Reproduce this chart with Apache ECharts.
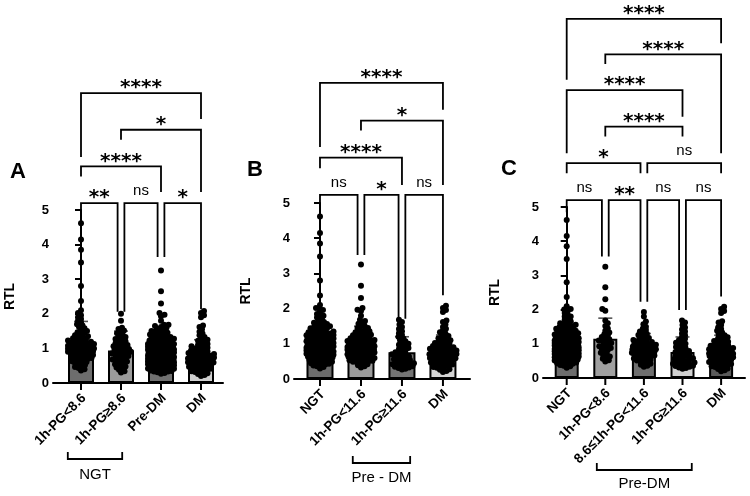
<!DOCTYPE html>
<html><head><meta charset="utf-8">
<script src="https://cdn.jsdelivr.net/npm/echarts@6/dist/echarts.min.js"></script>
<style>html,body{margin:0;padding:0;background:#fff}#c{width:750px;height:496px}</style>
</head><body><div id="c"></div>
<script>
// ---------- DATA ----------
const catsA = ['1h-PG<8.6', '1h-PG≥8.6', 'Pre-DM', 'DM'];
const catsB = ['NGT', '1h-PG<11.6', '1h-PG≥11.6', 'DM'];
const catsC = ['NGT', '1h-PG<8.6', '8.6≤1h-PG<11.6', '1h-PG≥11.6', 'DM'];

const meanA = [1.12, 0.94, 0.91, 0.78];
const meanB = [1.03, 0.93, 0.76, 0.77];
const meanC = [1.03, 1.15, 0.85, 0.76, 0.77];

const errTopA = [1.78, 1.5, 1.55, 1.25];
const errTopB = [1.62, 1.5, 1.2, 1.25];
const errTopC = [1.62, 1.75, 1.3, 1.2, 1.25];

const yTicks = [0, 1, 2, 3, 4, 5];

// individual RTL values per subgroup
const ngtLow = [0.36,0.4,0.43,0.46,0.49,0.52,0.54,0.57,0.59,0.61,0.63,0.65,0.67,0.69,0.7,0.72,0.74,0.75,0.77,0.78,0.8,0.81,0.82,0.84,0.85,0.86,0.88,0.89,0.9,0.91,0.92,0.94,0.95,0.96,0.97,0.98,0.99,1.0,1.01,1.02,1.03,1.04,1.05,1.06,1.07,1.08,1.1,1.11,1.12,1.13,1.15,1.16,1.17,1.19,1.2,1.22,1.23,1.25,1.27,1.29,1.31,1.33,1.35,1.38,1.41,1.44,1.47,1.5,1.54,1.58,1.62,1.66,1.7,1.75,1.8,1.85,1.9,1.96,2.02,2.1,2.37,2.8,3.48,3.85,4.15,4.62];
const ngtHigh = [0.3,0.34,0.38,0.42,0.45,0.48,0.51,0.54,0.57,0.6,0.62,0.64,0.66,0.68,0.7,0.72,0.74,0.76,0.78,0.8,0.82,0.84,0.85,0.87,0.89,0.9,0.92,0.94,0.96,0.98,1.0,1.02,1.04,1.06,1.08,1.1,1.12,1.15,1.18,1.21,1.24,1.27,1.3,1.33,1.36,1.4,1.44,1.48,1.52,1.56,1.6,1.8,2.0];
const preLow = [0.48,0.52,0.56,0.6,0.63,0.66,0.7,0.74,0.78,0.82,0.85,0.88,0.9,0.93,0.96,0.99,1.02,1.05,1.08,1.1,1.13,1.16,1.2,1.24,1.28,1.33,1.38,1.45,1.52,1.6,1.68,1.97,2.02,2.3,2.65,3.25];
const preMid = [0.33,0.36,0.39,0.42,0.45,0.47,0.49,0.51,0.53,0.55,0.57,0.59,0.6,0.62,0.63,0.65,0.66,0.68,0.69,0.7,0.71,0.73,0.74,0.75,0.76,0.77,0.79,0.8,0.81,0.82,0.83,0.84,0.85,0.86,0.87,0.88,0.9,0.91,0.92,0.93,0.95,0.96,0.97,0.99,1.0,1.02,1.03,1.05,1.07,1.09,1.11,1.13,1.15,1.17,1.2,1.23,1.26,1.29,1.32,1.36,1.4,1.45,1.5,1.57,1.65,1.8,1.93];
const preHigh = [0.27,0.29,0.31,0.33,0.35,0.36,0.38,0.39,0.41,0.42,0.44,0.45,0.47,0.49,0.5,0.52,0.54,0.56,0.58,0.6,0.62,0.64,0.66,0.68,0.7,0.72,0.74,0.76,0.79,0.82,0.85,0.88,0.91,0.94,0.97,1.0,1.03,1.07,1.11,1.15,1.2,1.25,1.3,1.36,1.42,1.48,1.55,1.62,1.68];
const dmVals = [0.2,0.23,0.26,0.28,0.3,0.32,0.34,0.36,0.38,0.4,0.41,0.43,0.44,0.46,0.47,0.49,0.5,0.51,0.53,0.54,0.55,0.57,0.58,0.59,0.6,0.61,0.62,0.64,0.65,0.66,0.67,0.68,0.69,0.7,0.71,0.72,0.73,0.74,0.75,0.76,0.77,0.78,0.79,0.8,0.81,0.82,0.83,0.84,0.86,0.87,0.88,0.9,0.91,0.93,0.94,0.96,0.98,1.0,1.02,1.04,1.06,1.08,1.1,1.13,1.16,1.19,1.22,1.25,1.29,1.33,1.38,1.43,1.48,1.55,1.62,1.66,1.9,1.96,2.02,2.08];

// composite groups
const ngtAll = ngtLow.concat(ngtHigh);
const pre11 = preLow.concat(preMid);
const preAll = pre11.concat(preHigh);

// significance brackets: [fromIdx, toIdx, level, leftLegEnd, rightLegEnd, label, insetLeft, insetRight]
const sigA = [
  [0, 3, 8.38, 6.53, 7.63, '****', 0, 0],
  [1, 3, 7.32, 7.03, 5.52, '*', 0, 0],
  [0, 2, 6.26, 5.97, 5.52, '****', 0, 0],
  [0, 1, 5.2, 4.85, 2.06, '**', 0, 1],
  [1, 2, 5.2, 2.06, 3.64, 'ns', 1, 1],
  [2, 3, 5.2, 3.64, 2.13, '*', 1, 0]
];
const sigB = [
  [0, 3, 8.41, 6.59, 7.65, '****', 0, 0],
  [1, 3, 7.34, 7.06, 5.51, '*', 0, 0],
  [0, 2, 6.29, 5.99, 5.51, '****', 0, 0],
  [0, 1, 5.23, 4.85, 3.52, 'ns', 0, 1],
  [1, 2, 5.23, 3.52, 1.71, '*', 1, 1],
  [2, 3, 5.23, 1.71, 2.38, 'ns', 1, 0]
];
const sigC = [
  [0, 4, 10.5, 8.72, 9.79, '****', 0, 0],
  [1, 4, 9.46, 9.18, 6.57, '****', 0, 0],
  [0, 3, 8.42, 6.57, 7.64, '****', 0, 0],
  [1, 3, 7.35, 7.06, 7.06, '****', 0, 0],
  [0, 2, 6.28, 5.99, 5.99, '*', 0, 1],
  [2, 4, 6.28, 5.99, 5.99, 'ns', 1, 0],
  [0, 1, 5.2, 4.85, 3.55, 'ns', 0, 1],
  [1, 2, 5.2, 3.55, 2.23, '**', 1, 1],
  [2, 3, 5.2, 2.23, 1.99, 'ns', 1, 1],
  [3, 4, 5.2, 1.99, 2.38, 'ns', 1, 0]
];

// ---------- LAYOUT / STYLE ----------
const FF = "'Liberation Sans', Arial, Helvetica, sans-serif";
const STAR_FONT = "bold 20px 'DejaVu Sans'";
const NS_FONT = "15px " + FF;
const LBL_FONT = "bold 13.5px " + FF;

const panels = [
  { letter: 'A', lx: 18, ly: 172, cats: catsA, means: meanA, tops: errTopA,
    groups: [ngtLow, ngtHigh, preAll, dmVals],
    colors: ['#6d6d6d', '#9b9b9b', '#707070', '#d0d0d0'],
    sig: sigA, grid: { left: 53, top: 210, width: 170, height: 173 }, xmin: -0.7, xmax: 3.55, barW: 26, nameGap: 36,
    span: { from: -0.33, to: 1.03, lineDy: 76, textDy: 92, text: 'NGT' } },
  { letter: 'B', lx: 255, ly: 170, cats: catsB, means: meanB, tops: errTopB,
    groups: [ngtAll, pre11, preHigh, dmVals],
    colors: ['#6d6d6d', '#9b9b9b', '#747474', '#d4d4d4'],
    sig: sigB, grid: { left: 294, top: 203, width: 176, height: 176 }, xmin: -0.634, xmax: 3.66, barW: 27, nameGap: 41,
    span: { from: 0.8, to: 2.2, lineDy: 84, textDy: 99, text: 'Pre - DM' } },
  { letter: 'C', lx: 509, ly: 169, cats: catsC, means: meanC, tops: errTopC,
    groups: [ngtAll, preLow, preMid, preHigh, dmVals],
    colors: ['#6d6d6d', '#a0a0a0', '#6e6e6e', '#d0d0d0', '#5a5a5a'],
    sig: sigC, grid: { left: 543, top: 207, width: 202, height: 171 }, xmin: -0.614, xmax: 4.619, barW: 24, nameGap: 41,
    span: { from: 0.78, to: 3.24, lineDy: 92, textDy: 106, text: 'Pre-DM' } }
];

const series = [];
panels.forEach((p, gi) => {
  // bars
  series.push({
    type: 'bar', xAxisIndex: gi, yAxisIndex: gi, barWidth: p.barW, z: 2, silent: true,
    data: p.means.map((m, i) => ({ value: [i, m], itemStyle: { color: p.colors[i] } })),
    itemStyle: { borderColor: '#000', borderWidth: 2 }
  });
  // error bars (under the dots)
  series.push({
    type: 'custom', xAxisIndex: gi, yAxisIndex: gi, z: 3, silent: true, clip: false,
    data: p.means.map((m, i) => [i, m, p.tops[i]]),
    renderItem: (params, api) => {
      const a = api.coord([api.value(0), api.value(1)]);
      const b = api.coord([api.value(0), api.value(2)]);
      return { type: 'group', children: [
        { type: 'line', shape: { x1: a[0], y1: a[1], x2: b[0], y2: b[1] }, style: { stroke: '#555', lineWidth: 1.5 } },
        { type: 'line', shape: { x1: b[0] - 7, y1: b[1], x2: b[0] + 7, y2: b[1] }, style: { stroke: '#555', lineWidth: 1.6 } }
      ] };
    }
  });
  // dots (filled after layout)
  series.push({
    id: 'dots' + gi, type: 'scatter', xAxisIndex: gi, yAxisIndex: gi, z: 4, silent: true,
    symbol: 'circle', symbolSize: 6, itemStyle: { color: '#000', opacity: 1 }, data: []
  });
  // x ticks + rotated category labels
  series.push({
    type: 'custom', xAxisIndex: gi, yAxisIndex: gi, z: 5, silent: true, clip: false,
    data: p.cats.map((c, i) => [i, 0]),
    renderItem: (params, api) => {
      const c = api.coord([api.value(0), 0]);
      return { type: 'group', children: [
        { type: 'line', shape: { x1: c[0], y1: c[1], x2: c[0], y2: c[1] + 7 }, style: { stroke: '#000', lineWidth: 2 } },
        { type: 'text', x: c[0] + 3, y: c[1] + 13, rotation: Math.PI / 4,
          style: { text: p.cats[params.dataIndex], x: 0, y: 0, align: 'right', verticalAlign: 'middle', font: LBL_FONT, fill: '#000' } }
      ] };
    }
  });
  // significance brackets
  series.push({
    type: 'custom', xAxisIndex: gi, yAxisIndex: gi, z: 5, silent: true, clip: false,
    data: p.sig.map((s) => [s[0], 0]),
    renderItem: (params, api) => {
      const s = p.sig[params.dataIndex];
      const INS = 3.4;
      const xa = api.coord([s[0], 0])[0] + (s[6] ? INS : 0);
      const xb = api.coord([s[1], 0])[0] - (s[7] ? INS : 0);
      const yl = api.coord([0, s[2]])[1];
      const ya = api.coord([0, s[3]])[1];
      const yb = api.coord([0, s[4]])[1];
      const star = s[5] !== 'ns';
      return { type: 'group', children: [
        { type: 'polyline', shape: { points: [[xa, ya], [xa, yl], [xb, yl], [xb, yb]] }, style: { stroke: '#000', lineWidth: 1.8, fill: null } },
        { type: 'text', style: { text: s[5], x: (xa + xb) / 2, y: yl - (star ? 5 : 12), align: 'center', verticalAlign: 'middle', font: star ? STAR_FONT : NS_FONT, fill: '#000' } }
      ] };
    }
  });
  // group bracket below labels
  series.push({
    type: 'custom', xAxisIndex: gi, yAxisIndex: gi, z: 5, silent: true, clip: false,
    data: [[p.span.from, 0]],
    renderItem: (params, api) => {
      const sp = p.span;
      const o = api.coord([sp.from, 0]);
      const e = api.coord([sp.to, 0]);
      const yl = o[1] + sp.lineDy;
      return { type: 'group', children: [
        { type: 'polyline', shape: { points: [[o[0], yl - 7], [o[0], yl], [e[0], yl], [e[0], yl - 7]] }, style: { stroke: '#000', lineWidth: 1.8, fill: null } },
        { type: 'text', style: { text: sp.text, x: (o[0] + e[0]) / 2, y: o[1] + sp.textDy, align: 'center', verticalAlign: 'middle', font: '15px ' + FF, fill: '#000' } }
      ] };
    }
  });
});

const option = {
  animation: false,
  backgroundColor: '#fff',
  graphic: panels.map(p => ({ type: 'text', x: p.lx, y: p.ly, style: { text: p.letter, font: 'bold 22px ' + FF, fill: '#000', align: 'center', verticalAlign: 'middle' } })),
  grid: panels.map(p => Object.assign({ outerBoundsMode: 'none', containLabel: false }, p.grid)),
  xAxis: panels.map((p, i) => ({
    type: 'value', gridIndex: i, min: p.xmin, max: p.xmax,
    axisLine: { show: true, onZero: false, lineStyle: { color: '#000', width: 2 } },
    axisTick: { show: false }, axisLabel: { show: false }, splitLine: { show: false }
  })),
  yAxis: panels.map((p, i) => ({
    type: 'value', gridIndex: i, min: yTicks[0], max: yTicks[yTicks.length - 1], interval: 1,
    name: 'RTL', nameLocation: 'middle', nameGap: p.nameGap, nameRotate: 90,
    nameTextStyle: { color: '#000', fontWeight: 'bold', fontSize: 14, fontFamily: FF },
    axisLine: { show: true, lineStyle: { color: '#000', width: 2 } },
    axisTick: { show: true, inside: false, length: 6, lineStyle: { color: '#000', width: 2 } },
    axisLabel: { color: '#000', fontWeight: 'bold', fontSize: 13, fontFamily: FF, margin: 4 },
    splitLine: { show: false }
  })),
  series: series
};

const chart = echarts.init(document.getElementById('c'), null, { renderer: 'canvas' });
chart.setOption(option);

// beeswarm layout of the dots (pixel space via the chart's own scales)
function swarm(values, idx, sx, sy, maxHalf, minD) {
  const vals = values.slice().sort((a, b) => a - b);
  const placed = [];
  const out = [];
  const step = 0.5;
  vals.forEach((v, n) => {
    const py = v * sy;
    const near = placed.filter(q => Math.abs(q[1] - py) < minD);
    let best = 0, bestScore = -1, done = false;
    const order = n % 2 ? [1, -1] : [-1, 1];
    for (let k = 0; k <= maxHalf / step && !done; k++) {
      const signs = k === 0 ? [1] : order;
      for (const sgn of signs) {
        const px = sgn * k * step;
        let md = Infinity;
        for (const q of near) { const d = Math.hypot(q[0] - px, q[1] - py); if (d < md) md = d; }
        if (md >= minD) { best = px; done = true; break; }
        if (md > bestScore) { bestScore = md; best = px; }
      }
    }
    placed.push([best, py]);
    out.push([idx + best / sx, v]);
  });
  return out;
}

panels.forEach((p, gi) => {
  const o = chart.convertToPixel({ gridIndex: gi }, [0, 0]);
  const a = chart.convertToPixel({ gridIndex: gi }, [1, 1]);
  const sx = a[0] - o[0], sy = o[1] - a[1];
  let pts = [];
  p.groups.forEach((g, i) => { pts = pts.concat(swarm(g, i, sx, sy, p.barW / 2, 3.4)); });
  chart.setOption({ series: [{ id: 'dots' + gi, data: pts }] });
});
</script></body></html>
